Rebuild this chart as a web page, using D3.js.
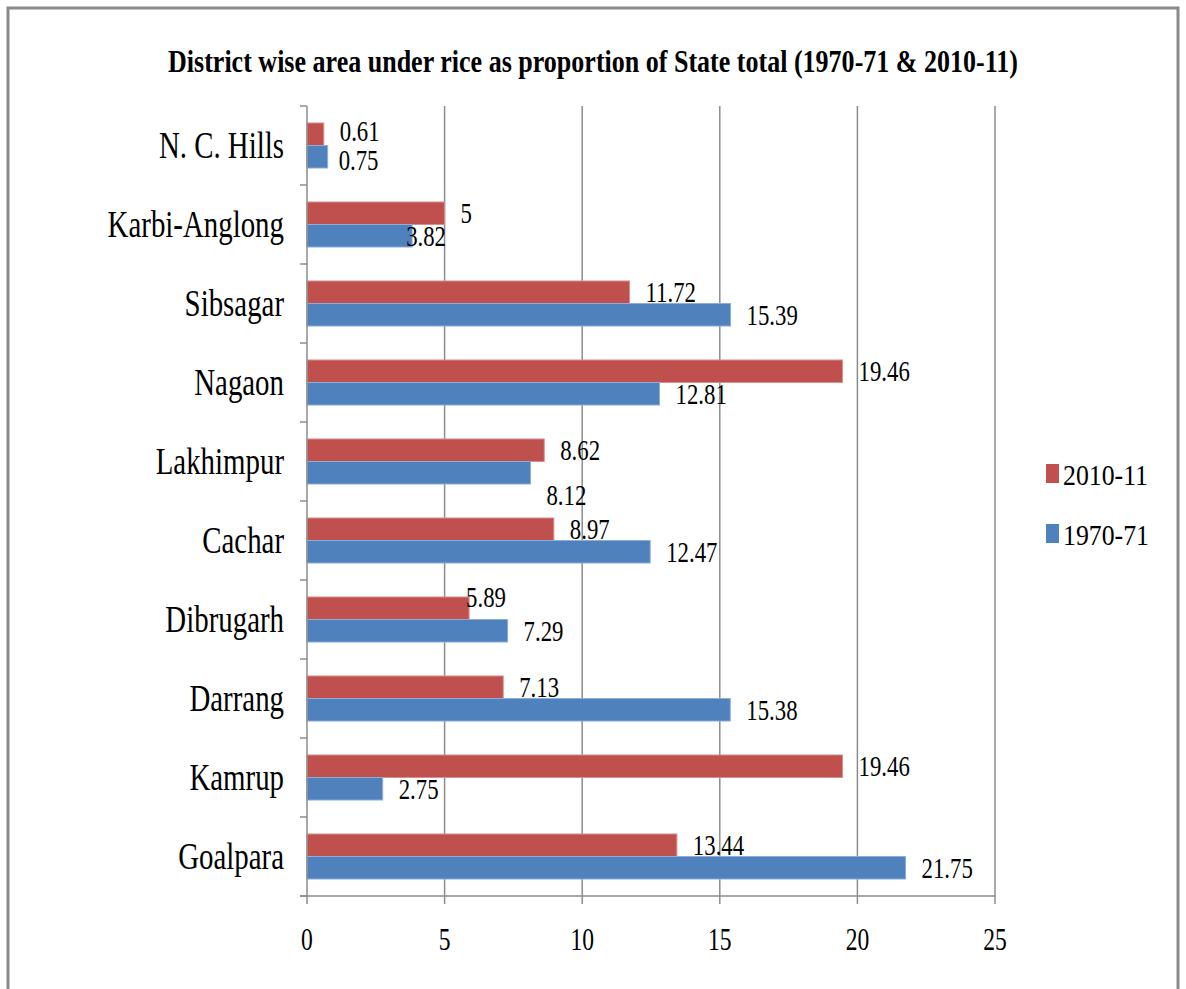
<!DOCTYPE html>
<html>
  <head>
    <meta charset="UTF-8" />
    <title>District wise area under rice</title>
    <script src="https://d3js.org/d3.v7.min.js"></script>
    <style>
      body {
        margin: 0;
        background-color: #fff;
      }
      text {
        font-family: "Liberation Serif", "Times New Roman", serif;
        fill: #000;
      }
    </style>
  </head>
  <body>
    <div id="chart"></div>

    <script>
      // categories, top to bottom
      const districts = [
        "N. C. Hills",
        "Karbi-Anglong",
        "Sibsagar",
        "Nagaon",
        "Lakhimpur",
        "Cachar",
        "Dibrugarh",
        "Darrang",
        "Kamrup",
        "Goalpara",
      ];
      const seriesNames = ["2010-11", "1970-71"];
      const values2010 = [0.61, 5, 11.72, 19.46, 8.62, 8.97, 5.89, 7.13, 19.46, 13.44];
      const values1970 = [0.75, 3.82, 15.39, 12.81, 8.12, 12.47, 7.29, 15.38, 2.75, 21.75];
      const xTicks = [0, 5, 10, 15, 20, 25];

      const colors = { "2010-11": "#C0504D", "1970-71": "#4F81BD" };
      const strokes = { "2010-11": "#D88E8C", "1970-71": "#8DAEDB" };

      // a few labels were moved by hand in the original
      const labelNudge = {
        "2010-11|N. C. Hills": [0, -3],
        "1970-71|N. C. Hills": [-5, 3],
        "1970-71|Karbi-Anglong": [-22, 0],
        "1970-71|Lakhimpur": [0, 22],
        "2010-11|Dibrugarh": [-19, -11],
      };

      const width = 1186;
      const height = 989;
      const sx = 0.76; // the original is squeezed sideways

      const svg = d3
        .select("#chart")
        .append("svg")
        .attr("width", width)
        .attr("height", height);

      svg
        .append("rect")
        .attr("x", 8)
        .attr("y", 8)
        .attr("width", 1170)
        .attr("height", 1010)
        .attr("fill", "#fff")
        .attr("stroke", "#8a8a8a")
        .attr("stroke-width", 3);

      function squeezed(sel, x, y, k = sx) {
        return sel
          .attr("x", 0)
          .attr("y", 0)
          .attr("transform", `translate(${x},${y}) scale(${k},1)`);
      }

      squeezed(svg.append("text"), 593, 72, 0.84)
        .attr("text-anchor", "middle")
        .attr("font-size", 31)
        .attr("font-weight", "bold")
        .text("District wise area under rice as proportion of State total (1970-71 & 2010-11)");

      const x = d3.scaleLinear().domain([0, 25]).range([307, 995]);
      const y = d3
        .scaleBand()
        .domain(districts)
        .range([106, 896])
        .paddingInner(0.43)
        .paddingOuter(0.215);
      const ySub = d3
        .scaleBand()
        .domain(seriesNames)
        .range([0, y.bandwidth()]);

      const rows = districts.map((d, i) => ({
        district: d,
        "2010-11": values2010[i],
        "1970-71": values1970[i],
      }));

      // gridlines
      svg
        .append("g")
        .selectAll("line")
        .data(xTicks.slice(1))
        .join("line")
        .attr("x1", (d) => x(d))
        .attr("x2", (d) => x(d))
        .attr("y1", 106)
        .attr("y2", 896)
        .attr("stroke", "#8c8c8c")
        .attr("stroke-width", 1.5);

      // bars
      const groups = svg
        .append("g")
        .selectAll("g")
        .data(rows)
        .join("g")
        .attr("transform", (d) => `translate(0,${y(d.district)})`);

      groups
        .selectAll("rect")
        .data((d) => seriesNames.map((s) => ({ s, v: d[s], district: d.district })))
        .join("rect")
        .attr("x", x(0))
        .attr("y", (d) => ySub(d.s))
        .attr("width", (d) => x(d.v) - x(0))
        .attr("height", ySub.bandwidth())
        .attr("fill", (d) => colors[d.s])
        .attr("stroke", (d) => strokes[d.s])
        .attr("stroke-width", 1);

      // data labels
      groups
        .selectAll("text")
        .data((d) => seriesNames.map((s) => ({ s, v: d[s], district: d.district })))
        .join("text")
        .each(function (d) {
          const n = labelNudge[d.s + "|" + d.district] || [0, 0];
          squeezed(
            d3.select(this),
            x(d.v) + 16 + n[0],
            ySub(d.s) + ySub.bandwidth() / 2 + 10 + n[1]
          );
        })
        .attr("font-size", 30)
        .text((d) => d.v);

      // left axis
      const axisColor = "#8c8c8c";
      svg
        .append("line")
        .attr("x1", x(0))
        .attr("x2", x(0))
        .attr("y1", 106)
        .attr("y2", 896)
        .attr("stroke", axisColor)
        .attr("stroke-width", 1.5);

      const bounds = d3.range(districts.length + 1).map((i) => 106 + i * y.step());
      svg
        .append("g")
        .selectAll("line")
        .data(bounds)
        .join("line")
        .attr("x1", x(0) - 7)
        .attr("x2", x(0))
        .attr("y1", (d) => d)
        .attr("y2", (d) => d)
        .attr("stroke", axisColor)
        .attr("stroke-width", 1.5);

      svg
        .append("g")
        .selectAll("text")
        .data(districts)
        .join("text")
        .each(function (d) {
          squeezed(d3.select(this), 284, y(d) + y.bandwidth() / 2 + 12);
        })
        .attr("text-anchor", "end")
        .attr("font-size", 38)
        .text((d) => d);

      // bottom axis
      svg
        .append("line")
        .attr("x1", x(0) - 7)
        .attr("x2", x(25))
        .attr("y1", 896)
        .attr("y2", 896)
        .attr("stroke", axisColor)
        .attr("stroke-width", 1.5);

      svg
        .append("g")
        .selectAll("line")
        .data(xTicks)
        .join("line")
        .attr("x1", (d) => x(d))
        .attr("x2", (d) => x(d))
        .attr("y1", 896)
        .attr("y2", 904)
        .attr("stroke", axisColor)
        .attr("stroke-width", 1.5);

      svg
        .append("g")
        .selectAll("text")
        .data(xTicks)
        .join("text")
        .each(function (d) {
          squeezed(d3.select(this), x(d), 950);
        })
        .attr("text-anchor", "middle")
        .attr("font-size", 31)
        .text((d) => d);

      // legend
      const legend = svg
        .append("g")
        .selectAll("g")
        .data(seriesNames)
        .join("g")
        .attr("transform", (d, i) => `translate(1046,${464 + i * 60})`);

      legend
        .append("rect")
        .attr("width", 13)
        .attr("height", 19)
        .attr("fill", (d) => colors[d]);

      legend
        .append("text")
        .each(function () {
          squeezed(d3.select(this), 17, 21, 0.86);
        })
        .attr("font-size", 30)
        .text((d) => d);
    </script>
  </body>
</html>
